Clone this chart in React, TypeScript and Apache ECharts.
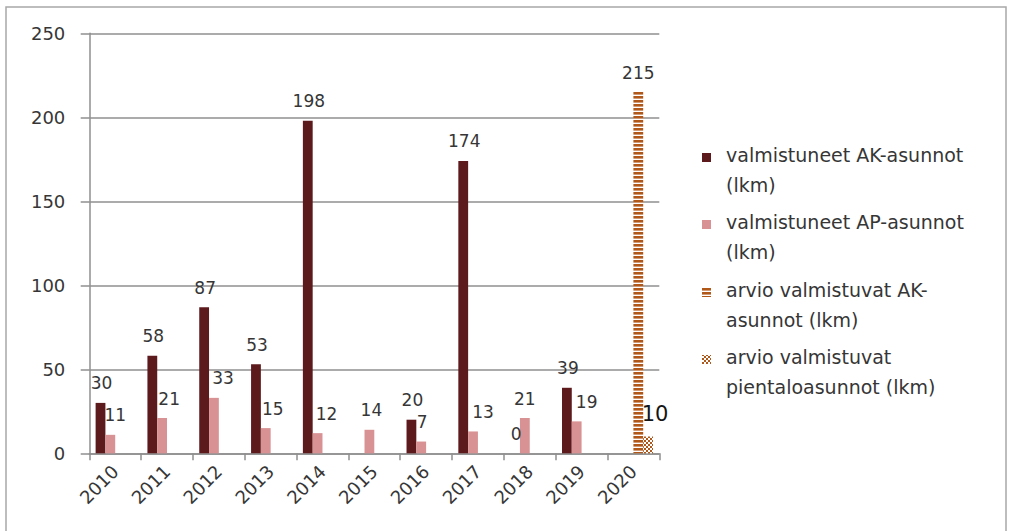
import React, { useEffect, useRef } from "react";
import * as echarts from "echarts";

// Completed and projected dwellings per year
const years = ["2010", "2011", "2012", "2013", "2014", "2015", "2016", "2017", "2018", "2019", "2020"];
const akCompleted = [30, 58, 87, 53, 198, null, 20, 174, 0, 39, null];
const apCompleted = [11, 21, 33, 15, 12, 14, 7, 13, 21, 19, null];
const akEstimate = [null, null, null, null, null, null, null, null, null, null, 215];
const smallHouseEstimate = [null, null, null, null, null, null, null, null, null, null, 10];

const seriesNames = [
  "valmistuneet AK-asunnot (lkm)",
  "valmistuneet AP-asunnot (lkm)",
  "arvio valmistuvat AK-asunnot (lkm)",
  "arvio valmistuvat pientaloasunnot (lkm)",
];
const legendLines = [
  ["valmistuneet AK-asunnot", "(lkm)"],
  ["valmistuneet AP-asunnot", "(lkm)"],
  ["arvio valmistuvat AK-", "asunnot (lkm)"],
  ["arvio valmistuvat", "pientaloasunnot (lkm)"],
];
const yTicks = { min: 0, max: 250, interval: 50 };

// horizontal nudges for the AP value labels, which sit slightly right of their bars
const apLabelNudge = [5, 7, 9, 7, 9, 2, 1, 10, 0, 10, 0];

const FONT = "DejaVu Sans";
const TEXT = "#363636";
const GRID = "#8f8f8f";
const AK_COLOR = "#5c1a1c";
const AP_COLOR = "#d99294";
const BROWN = "#b0581a";

const svgUrl = (svg: string) => "data:image/svg+xml;charset=utf-8," + encodeURIComponent(svg);

const stripePattern = {
  image: svgUrl(
    `<svg xmlns='http://www.w3.org/2000/svg' width='4' height='4'><rect width='4' height='4' fill='#ffffff'/><rect x='0' y='0' width='4' height='2.6' fill='${BROWN}'/></svg>`
  ),
  imageWidth: 4,
  imageHeight: 4,
  repeat: "repeat",
};
const checkerPattern = {
  image: svgUrl(
    `<svg xmlns='http://www.w3.org/2000/svg' width='4' height='4'><rect width='4' height='4' fill='#ffffff'/><rect x='0' y='0' width='2' height='2' fill='${BROWN}'/><rect x='2' y='2' width='2' height='2' fill='${BROWN}'/></svg>`
  ),
  imageWidth: 4,
  imageHeight: 4,
  repeat: "repeat",
};

const labelStyle = {
  show: true,
  position: "top",
  distance: 11,
  fontFamily: FONT,
  fontSize: 17,
  color: TEXT,
};

export default function App() {
  const ref = useRef<HTMLDivElement>(null);

  useEffect(() => {
    if (!ref.current) return;
    const chart = echarts.init(ref.current, null, { renderer: "svg" });

    const legendIcons = [AK_COLOR, AP_COLOR, stripePattern, checkerPattern];
    const legendTops = [140, 207, 275, 342];
    const legendGraphics: any[] = [];
    legendLines.forEach((lines, i) => {
      legendGraphics.push({
        type: "rect",
        shape: { x: 702, y: legendTops[i] + 13, width: 9, height: 9 },
        style: { fill: legendIcons[i] as any },
      });
      legendGraphics.push({
        type: "text",
        x: 726,
        y: legendTops[i],
        style: {
          text: lines.join("\n"),
          font: `19px "${FONT}"`,
          fill: TEXT,
          lineHeight: 30,
          verticalAlign: "top",
        },
      });
    });

    chart.setOption({
      animation: false,
      backgroundColor: "#ffffff",
      grid: {
        left: 89.3,
        right: 350.7,
        top: 33.3,
        bottom: 77.7,
        containLabel: false,
        outerBoundsMode: "none",
      },
      xAxis: {
        type: "category",
        data: years,
        boundaryGap: true,
        axisLine: { show: true, lineStyle: { color: GRID, width: 1.5 } },
        axisTick: { show: true, length: 7, lineStyle: { color: GRID, width: 1.5 } },
        axisLabel: {
          interval: 0,
          rotate: 45,
          margin: 15,
          fontFamily: FONT,
          fontSize: 18,
          color: TEXT,
        },
        splitLine: { show: false },
      },
      yAxis: {
        type: "value",
        min: yTicks.min,
        max: yTicks.max,
        interval: yTicks.interval,
        axisLine: { show: true, lineStyle: { color: GRID, width: 1.5 } },
        axisTick: { show: true, length: 8.6, lineStyle: { color: GRID, width: 1.5 } },
        axisLabel: { margin: 24, fontFamily: FONT, fontSize: 18, color: TEXT },
        splitLine: { show: true, lineStyle: { color: GRID, width: 1.5 } },
      },
      series: [
        {
          name: seriesNames[0],
          type: "bar",
          data: akCompleted,
          barWidth: 9.8,
          barGap: "0%",
          itemStyle: { color: AK_COLOR },
          label: { ...labelStyle, offset: [1, 0] },
        },
        {
          name: seriesNames[1],
          type: "bar",
          data: apCompleted.map((v, i) => ({
            value: v,
            label: { offset: [apLabelNudge[i], 0] },
          })),
          barWidth: 9.8,
          barGap: "0%",
          itemStyle: { color: AP_COLOR },
          label: { ...labelStyle },
        },
        {
          name: seriesNames[2],
          type: "bar",
          data: akEstimate,
          barWidth: 9.8,
          barGap: "0%",
          itemStyle: { color: stripePattern as any },
          label: { ...labelStyle, offset: [0, 0] },
        },
        {
          name: seriesNames[3],
          type: "bar",
          data: smallHouseEstimate,
          barWidth: 9.8,
          barGap: "0%",
          itemStyle: { color: checkerPattern as any },
          label: {
            ...labelStyle,
            fontSize: 21,
            color: "#151515",
            distance: 12,
            offset: [7, 0],
          },
        },
      ],
      graphic: [
        {
          type: "rect",
          shape: { x: 6, y: 7, width: 1000, height: 530 },
          style: { fill: "none", stroke: "#a8a8a8", lineWidth: 1.5 },
          silent: true,
        },
        ...legendGraphics,
      ],
    });

    return () => chart.dispose();
  }, []);

  return (
    <div
      ref={ref}
      style={{ position: "absolute", left: 0, top: 0, width: 1010, height: 531 }}
    />
  );
}
